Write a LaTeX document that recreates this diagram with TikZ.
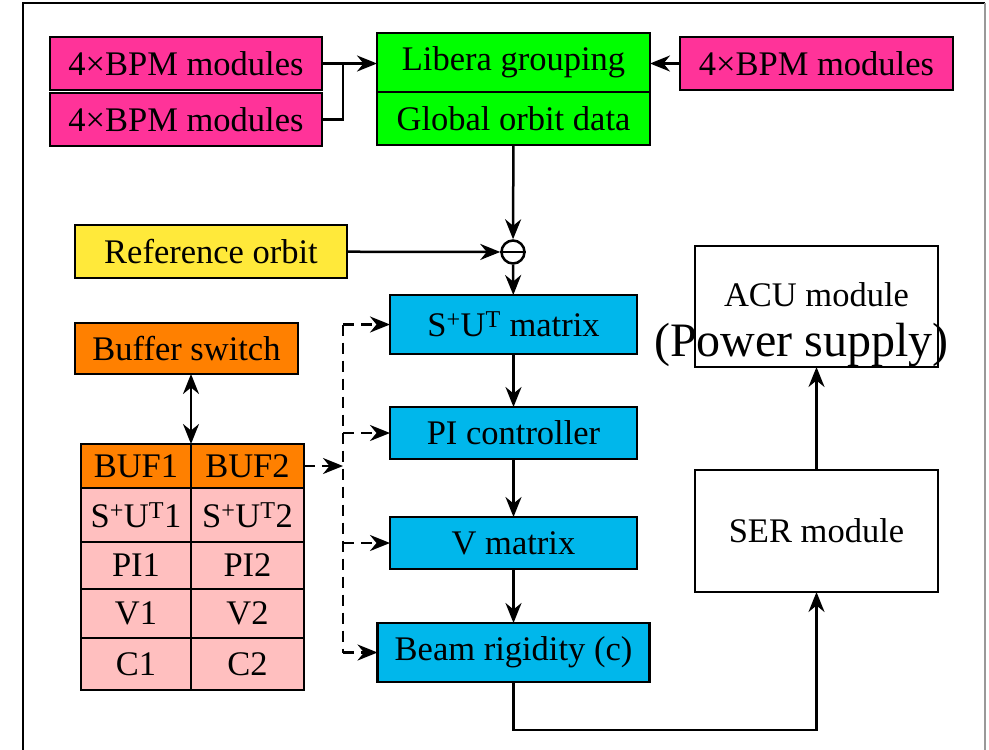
\documentclass[tikz,border=0pt]{standalone}
\usepackage{fontspec}
\setmainfont{Liberation Serif}
\usetikzlibrary{positioning,arrows.meta}
\definecolor{bpmpink}{RGB}{255,51,153}
\definecolor{orbitgreen}{RGB}{0,255,0}
\definecolor{refyellow}{RGB}{255,233,58}
\definecolor{bufforange}{RGB}{255,128,0}
\definecolor{ctrlblue}{RGB}{0,183,235}
\definecolor{cellpink}{RGB}{255,191,191}
\tikzset{
  box/.style={draw, line width=2.5pt, outer sep=0pt, inner sep=0pt, font=\fontsize{34.5}{40}\selectfont},
  bpmbox/.style={box, fill=bpmpink, minimum width=272pt, minimum height=53pt},
  greenbox/.style={box, fill=orbitgreen, minimum width=273pt},
  ctrlbox/.style={box, fill=ctrlblue, minimum width=247pt, minimum height=52pt},
  modbox/.style={box, minimum width=243pt},
  cellA/.style={box, fill=cellpink, minimum width=110pt},
  cellB/.style={box, fill=cellpink, minimum width=113pt},
  sel/.style={dashed, dash pattern=on 11pt off 7pt}
}

\begin{document}
\begin{tikzpicture}[x=1pt,y=-1pt,line width=2.5pt,>={Stealth[length=20pt,width=16pt]}]
    \useasboundingbox (0,0) rectangle (989,750);
    \draw[line width=1.5pt] (23,750) -- (23,3) -- (985,3);
    \draw[line width=1.5pt,black!40] (985,3) -- (985,750);

    \node[bpmbox] (bpmA) at (186,63.5) {4×BPM modules};
    \node[bpmbox, below=3pt of bpmA] (bpmB) {4×BPM modules};
    \node[greenbox, minimum height=59pt] (libera) at (513.5,62.5) {Libera grouping};
    \node[greenbox, minimum height=53pt, below=0pt of libera] (glob) {Global orbit data};
    \node[bpmbox, minimum width=273pt] (bpmC) at (816.5,63.5) {4×BPM modules};

    \node[box, fill=refyellow, minimum width=272pt, minimum height=53pt] (ref) at (211,251.5) {Reference orbit};
    \node[draw, circle, minimum size=23pt, inner sep=0pt, line width=2.5pt] (sum) at (513,252) {};
    \draw[line width=1.5pt] (sum.west) -- (sum.east);

    \node[ctrlbox, minimum height=59pt] (su) at (513.5,324.5) {S\textsuperscript{+}U\textsuperscript{T} matrix};
    \node[ctrlbox, below=53pt of su] (pi) {PI controller};
    \node[ctrlbox, below=58pt of pi] (vmat) {V matrix};
    \node[ctrlbox, minimum width=272pt, minimum height=59pt, below=54pt of vmat] (beam) {Beam rigidity (c)};

    \node[modbox, minimum height=121pt] (acu) at (816.5,306.5) {};
    \node[align=center, font=\fontsize{34.5}{50}\selectfont] (acutext) at (816.5,325)
        {ACU module\\{\fontsize{48}{50}\selectfont (Power supply)\hspace*{30pt}}};
    \node[modbox, minimum height=122pt] (ser) at (816.5,531) {SER module};

    \node[box, fill=bufforange, minimum width=223pt, minimum height=51pt] (bufsw) at (186.5,348.5) {Buffer switch};
    \node[box, fill=bufforange, minimum width=110pt, minimum height=44pt] (buf1) at (136,466) {BUF1};
    \node[box, fill=bufforange, minimum width=113pt, minimum height=44pt, right=0pt of buf1] (buf2) {BUF2};
    \node[cellA, minimum height=54pt, below=0pt of buf1] (su1) {S\textsuperscript{+}U\textsuperscript{T}1};
    \node[cellB, minimum height=54pt, below=0pt of buf2] (su2) {S\textsuperscript{+}U\textsuperscript{T}2};
    \node[cellA, minimum height=47pt, below=0pt of su1] (pi1) {PI1};
    \node[cellB, minimum height=47pt, below=0pt of su2] (pi2) {PI2};
    \node[cellA, minimum height=49pt, below=0pt of pi1] (v1) {V1};
    \node[cellB, minimum height=49pt, below=0pt of pi2] (v2) {V2};
    \node[cellA, minimum height=52pt, below=0pt of v1] (c1) {C1};
    \node[cellB, minimum height=52pt, below=0pt of v2] (c2) {C2};

    \coordinate[right=21pt of bpmA.east] (joinA);
    \coordinate (dsel) at (343,466);

    \draw[->] (bpmA.east) -- (bpmA.east -| libera.west);
    \draw (bpmB.east) -| (joinA);
    \draw[->] (bpmC.west) -- (bpmC.west -| libera.east);
    \draw[->] (glob) -- (sum);
    \draw[->] (ref) -- (sum);
    \draw[->] (sum) -- (su);
    \draw[->] (su) -- (pi);
    \draw[->] (pi) -- (vmat);
    \draw[->] (vmat) -- (beam);
    \draw[->] (beam.south) -- ++(0,48) -| (ser.south);
    \draw[->] (ser) -- (acu);
    \draw[<->] (buf1.north east |- bufsw.south) -- (buf1.north east);

    \draw[sel,->] (buf2.east) -- (dsel);
    \draw[sel] (dsel |- su.west) -- (dsel |- beam.west);
    \foreach \blk in {su,pi,vmat,beam}
        \draw[sel,->] (dsel |- \blk.west) -- (\blk.west);
\end{tikzpicture}
\end{document}
